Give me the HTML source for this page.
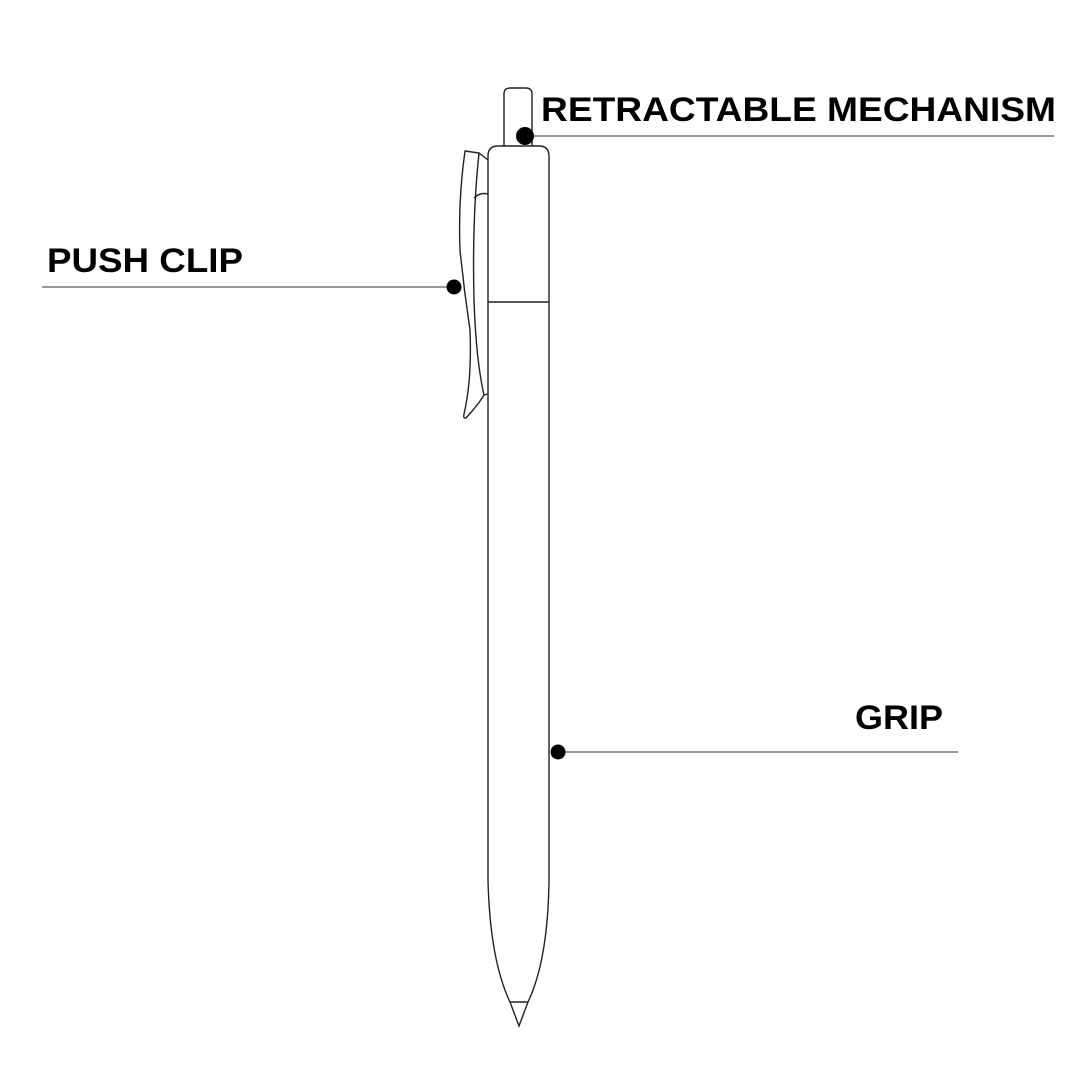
<!DOCTYPE html>
<html><head><style>html,body{margin:0;padding:0;background:#fff}</style></head>
<body>
<svg width="1080" height="1080" viewBox="0 0 1080 1080" xmlns="http://www.w3.org/2000/svg">
<g fill="none" stroke="#222" stroke-width="1.4">
<path d="M504,146 V94 Q504,88 510,88 H526 Q532,88 532,94 V146"/>
<path d="M510,1002 Q490,960 488,880 L488,156 Q488,146 498,146 H539 Q549,146 549,156 L549,880 Q548,960 528,1002 Z"/>
<path d="M510,1002 L519,1026 L528,1002"/>
<line x1="488" y1="302" x2="549" y2="302"/>
<path d="M465,151 L479,153 Q472,220 474,300 Q476,360 484,395 Q478,405 466,418 Q463,419 464,414 Q472,380 470,330 Q464,290 460,250 Q458,200 465,151 Z"/>
<path d="M479,153 L488,160"/>
<path d="M474,198 Q480,192 488,194"/>
<path d="M484,395 L488,394"/>
</g>
<g stroke="#777" stroke-width="1.5">
<line x1="525" y1="136" x2="1054" y2="136"/>
<line x1="42" y1="287" x2="454" y2="287"/>
<line x1="558" y1="752" x2="958" y2="752"/>
</g>
<g fill="#000">
<circle cx="525" cy="136" r="9"/>
<circle cx="454" cy="287" r="7.5"/>
<circle cx="558" cy="752" r="7.5"/>
</g>
<g font-family="Liberation Sans, sans-serif" font-weight="bold" font-size="34" fill="#000">
<text x="541" y="121" textLength="515" lengthAdjust="spacingAndGlyphs">RETRACTABLE MECHANISM</text>
<text x="47" y="272" textLength="196" lengthAdjust="spacingAndGlyphs">PUSH CLIP</text>
<text x="855" y="729" textLength="88" lengthAdjust="spacingAndGlyphs">GRIP</text>
</g>
</svg>
</body></html>
